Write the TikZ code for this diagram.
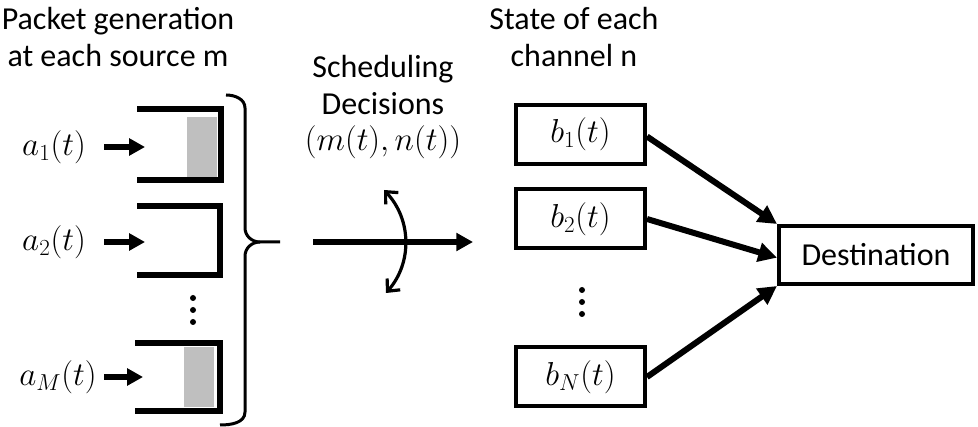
\documentclass[tikz,border=0pt]{standalone}
\usepackage{fontspec}
\setmainfont{Carlito}
\usetikzlibrary{arrows.meta}
\definecolor{qgray}{RGB}{191,191,191}
\begin{document}
\begin{tikzpicture}[x=0.75pt,y=-0.75pt,
  txt/.style={font=\fontsize{24}{27.75}\selectfont,align=center,inner sep=0pt},
  mlab/.style={font=\fontsize{26}{30}\selectfont,inner sep=0pt},
  queue/.style={line width=4.5pt},
  pkt/.style={fill=qgray,draw=white,line width=0.75pt},
  inarr/.style={line width=4pt,-{Triangle[length=12pt,width=12.5pt]}},
  mainarr/.style={line width=3.8pt,-{Triangle[length=12.5pt,width=13pt]}},
  swing/.style={line width=2.4pt,{Straight Barb[length=7pt,width=13pt,line width=2.4pt]}-{Straight Barb[length=7pt,width=13pt,line width=2.4pt]}},
  chan/.style={draw,line width=3pt,minimum width=96.75pt,minimum height=44.25pt,inner sep=0pt,font=\fontsize{26}{30}\selectfont},
  dest/.style={draw,line width=3pt,minimum width=145.5pt,minimum height=43.5pt,inner sep=0pt,font=\fontsize{24}{28}\selectfont},
  outarr/.style={line width=4.5pt,-{Triangle[length=14pt,width=14pt]}},
  bracestyle/.style={line width=2.25pt},
  dot/.style={fill=black}
]
\useasboundingbox (0,0) rectangle (978,427);

% titles
\node[txt] (ttl1) at (118,37) {Packet generation\\at each source m};
\node[txt] (ttl2) at (574,37) {State of each\\channel n};
\node[txt] (ttl3) at (383,107) {Scheduling\\Decisions\\[-1pt]\fontsize{26}{30}\selectfont$(m(t),n(t))$};

% queues
\fill[pkt] (186,117) rectangle (217,178);
\draw[queue] (137,109) -- (221,109) -- (221,180) -- (137,180);
\draw[queue] (137,206) -- (220,206) -- (220,275) -- (137,275);
\fill[pkt] (183,347) rectangle (214,408);
\draw[queue] (135,343) -- (220,343) -- (220,411) -- (135,411);

% arrival labels and arrows
\node[mlab] (a1) at (54,147) {$a_1(t)$};
\node[mlab] (a2) at (54,242) {$a_2(t)$};
\node[mlab] (aM) at (58,377) {$a_M(t)$};
\coordinate (a1s) at (104,147); \coordinate (q1) at (145,147);
\coordinate (a2s) at (104,242); \coordinate (q2) at (145,242);
\coordinate (aMs) at (104,377); \coordinate (qM) at (143,377);
\draw[inarr] (a1s) -- (q1);
\draw[inarr] (a2s) -- (q2);
\draw[inarr] (aMs) -- (qM);

% dots left
\fill[dot] (193,298) circle (3);
\fill[dot] (193,310) circle (3);
\fill[dot] (193,322) circle (3);

% brace
\draw[bracestyle] (226,95) to[out=0,in=90] (245,108) -- (245,228)
  to[out=-90,in=180] (260,242) -- (280,242);
\draw[bracestyle] (260,242) to[out=180,in=90] (245,256) -- (245,412)
  to[out=-90,in=0] (220,425);

% main arrow and swing
\coordinate (ms) at (313,242); \coordinate (me) at (473,242);
\draw[mainarr] (ms) -- (me);
\coordinate (sw1) at (384,190); \coordinate (sw2) at (386,293);
\draw[swing] (sw1) to[bend left=42] (sw2);

% channels
\node[chan] (b1) at (580.5,134.5) {$b_1(t)$};
\node[chan] (b2) at (580.5,219) {$b_2(t)$};
\node[chan] (bN) at (580.5,377) {$b_N(t)$};
\fill[dot] (582,290) circle (3);
\fill[dot] (582,302) circle (3);
\fill[dot] (582,314) circle (3);

\node[dest] (d) at (876,255) {Destination};
\draw[outarr] ([yshift=-1.5]b1.east) -- (d.north west);
\draw[outarr] (b2.east) -- ([yshift=-2]d.west);
\draw[outarr] (bN.east) -- (d.south west);
\end{tikzpicture}
\end{document}
